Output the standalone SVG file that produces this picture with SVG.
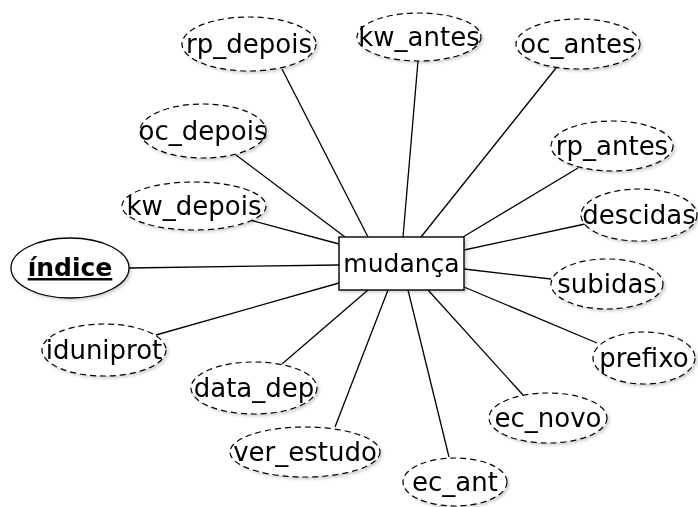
<svg xmlns="http://www.w3.org/2000/svg" width="698" height="507" viewBox="0 0 698 507">
<style>
.attr{fill:#fff;stroke:#000;stroke-width:1.2;stroke-dasharray:6,4}
.key{fill:#fff;stroke:#000;stroke-width:1.3}
.ent{fill:#fff;stroke:#000;stroke-width:1.4}
text{font-family:"DejaVu Sans",sans-serif;font-size:26px;fill:#000;text-anchor:middle}
.m{font-size:25px}
.b{font-weight:bold;text-decoration:underline;font-size:25px}
#edges line{stroke:#000;stroke-width:1.3}
</style>
<defs>
<filter id="sh" x="-20%" y="-20%" width="140%" height="140%">
<feDropShadow dx="2" dy="2" stdDeviation="1.5" flood-color="#000" flood-opacity="0.18"/>
</filter>
</defs>
<rect width="698" height="507" fill="#fff"/>
<g id="edges">
<line x1="129" y1="268" x2="339" y2="265"/>
<line x1="282" y1="69" x2="368" y2="237"/>
<line x1="418" y1="61" x2="403" y2="237"/>
<line x1="556" y1="68" x2="421" y2="237"/>
<line x1="236" y1="155" x2="345" y2="237"/>
<line x1="578" y1="168" x2="463" y2="237"/>
<line x1="250" y1="220" x2="339" y2="244"/>
<line x1="585" y1="224" x2="464" y2="250"/>
<line x1="551" y1="279" x2="464" y2="269"/>
<line x1="597" y1="343" x2="464" y2="287"/>
<line x1="523" y1="395" x2="428" y2="290"/>
<line x1="449" y1="457" x2="408" y2="290"/>
<line x1="335" y1="427" x2="388" y2="290"/>
<line x1="282" y1="364" x2="368" y2="290"/>
<line x1="156" y1="335" x2="339" y2="283"/>
</g>
<g id="mudanca" filter="url(#sh)"><rect class="ent" x="339" y="237" width="125" height="53"/><text class="m" x="401.5" y="272">mudança</text></g>
<g id="indice" filter="url(#sh)"><ellipse class="key" cx="70" cy="268" rx="59" ry="30"/><text class="b" x="70" y="276">índice</text></g>
<g id="rp_depois" filter="url(#sh)"><ellipse class="attr" cx="249" cy="44" rx="67" ry="27"/><text x="249" y="53">rp_depois</text></g>
<g id="kw_antes" filter="url(#sh)"><ellipse class="attr" cx="419" cy="37" rx="62" ry="24"/><text x="419" y="46">kw_antes</text></g>
<g id="oc_antes" filter="url(#sh)"><ellipse class="attr" cx="578" cy="44" rx="62" ry="25"/><text x="578" y="53">oc_antes</text></g>
<g id="oc_depois" filter="url(#sh)"><ellipse class="attr" cx="203" cy="131" rx="63" ry="27"/><text x="203" y="140">oc_depois</text></g>
<g id="rp_antes" filter="url(#sh)"><ellipse class="attr" cx="612" cy="146" rx="61" ry="25"/><text x="612" y="155">rp_antes</text></g>
<g id="kw_depois" filter="url(#sh)"><ellipse class="attr" cx="194" cy="206" rx="72" ry="24"/><text x="194" y="215">kw_depois</text></g>
<g id="descidas" filter="url(#sh)"><ellipse class="attr" cx="639" cy="215" rx="58" ry="26"/><text x="639" y="224">descidas</text></g>
<g id="subidas" filter="url(#sh)"><ellipse class="attr" cx="607" cy="284" rx="56" ry="25"/><text x="607" y="293">subidas</text></g>
<g id="iduniprot" filter="url(#sh)"><ellipse class="attr" cx="104" cy="350" rx="62" ry="26"/><text x="104" y="359">iduniprot</text></g>
<g id="prefixo" filter="url(#sh)"><ellipse class="attr" cx="644" cy="358" rx="51" ry="26"/><text x="644" y="367">prefixo</text></g>
<g id="data_dep" filter="url(#sh)"><ellipse class="attr" cx="254" cy="388" rx="63" ry="26"/><text x="254" y="397">data_dep</text></g>
<g id="ec_novo" filter="url(#sh)"><ellipse class="attr" cx="548" cy="418" rx="59" ry="25"/><text x="548" y="427">ec_novo</text></g>
<g id="ver_estudo" filter="url(#sh)"><ellipse class="attr" cx="305" cy="452" rx="75" ry="25"/><text x="305" y="461">ver_estudo</text></g>
<g id="ec_ant" filter="url(#sh)"><ellipse class="attr" cx="455" cy="482" rx="52" ry="24"/><text x="455" y="491">ec_ant</text></g>
</svg>
